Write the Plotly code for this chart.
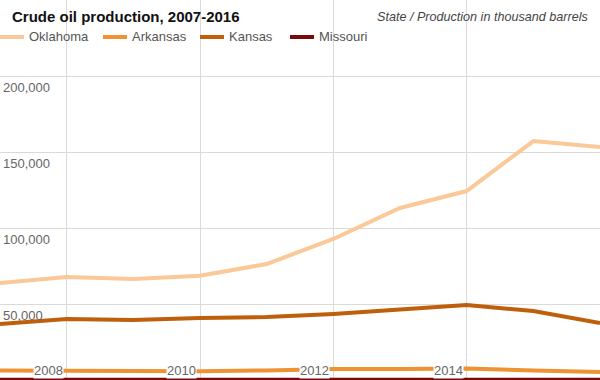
import plotly.graph_objects as go

years = [2007, 2008, 2009, 2010, 2011, 2012, 2013, 2014, 2015, 2016]
oklahoma = [63800, 67800, 66400, 68600, 76300, 92800, 113200, 124300, 157200, 153300]
arkansas = [6200, 6000, 5800, 5800, 6300, 7200, 7300, 7600, 6200, 5200]
kansas = [36800, 40100, 39500, 40800, 41400, 43400, 46300, 49300, 45400, 37500]
missouri = [120, 110, 100, 90, 150, 200, 220, 230, 180, 150]

names = ["Oklahoma", "Arkansas", "Kansas", "Missouri"]
colors = ["#fbc898", "#ee9232", "#be5f0c", "#7a0a0a"]
values = [oklahoma, arkansas, kansas, missouri]

y_tickvals = [0, 50000, 100000, 150000, 200000, 250000]
y_ticktext = ["", "50,000", "100,000", "150,000", "200,000", ""]
x_tickvals = [2008, 2010, 2012, 2014, 2016]
x_ticktext = ["2008", "2010", "2012", "2014", ""]

W, H = 600, 380
# legend entry starting pixels (styling)
legend_x = [0, 103, 200, 290]
legend_y = 37

fig = go.Figure()
for name, vals, color in zip(names, values, colors):
    fig.add_trace(go.Scatter(x=years, y=vals, name=name, mode="lines",
                             line=dict(color=color, width=4), showlegend=False,
                             hoverinfo="skip"))

font_family = "Liberation Sans, Arial, sans-serif"
shapes = []
annotations = [
    dict(text="<b>Crude oil production, 2007-2016</b>", xref="paper", yref="paper",
         x=10 / W, y=1 - 16 / H, xanchor="left", yanchor="middle",
         showarrow=False, font=dict(size=15, color="#111111", family=font_family)),
    dict(text="<i>State / Production in thousand barrels</i>", xref="paper", yref="paper",
         x=590 / W, y=1 - 17 / H, xanchor="right", yanchor="middle",
         showarrow=False, font=dict(size=12.6, color="#444444", family=font_family)),
]
for name, color, lx in zip(names, colors, legend_x):
    shapes.append(dict(type="line", xref="paper", yref="paper",
                       x0=lx / W, x1=(lx + 24) / W, y0=1 - legend_y / H, y1=1 - legend_y / H,
                       line=dict(color=color, width=4)))
    annotations.append(dict(text=name, xref="paper", yref="paper",
                            x=(lx + 27) / W, y=1 - legend_y / H, xanchor="left", yanchor="middle",
                            showarrow=False, font=dict(size=13, color="#555555", family=font_family)))
# x-axis tick labels on a white backing, sitting over the bottom line
for tv, tt in zip(x_tickvals, x_ticktext):
    if tt:
        annotations.append(dict(text=tt, xref="x", yref="paper", x=tv, y=0,
                                xanchor="right", yanchor="middle", xshift=-3, yshift=10,
                                showarrow=False, bgcolor="white", borderpad=0,
                                font=dict(size=13, color="#666666", family=font_family)))

fig.update_layout(
    width=W, height=H,
    margin=dict(l=0, r=0, t=0, b=0, autoexpand=False),
    paper_bgcolor="white", plot_bgcolor="white",
    font=dict(family=font_family, color="#666666", size=13),
    showlegend=False,
    xaxis=dict(range=[2007, 2016], tickvals=x_tickvals, showticklabels=False,
               showgrid=True, gridcolor="#dadada", gridwidth=1, zeroline=False,
               showline=False, ticks="", automargin=False),
    yaxis=dict(range=[0, 250000], tickvals=y_tickvals, ticktext=y_ticktext,
               showgrid=True, gridcolor="#dadada", gridwidth=1, zeroline=False,
               showline=False, ticks="", ticklabelposition="inside",
               automargin=False, ticklabelshift=11, layer="above traces",
               tickfont=dict(size=13, color="#666666")),
    shapes=shapes,
    annotations=annotations,
)

fig.write_html("out.html", config={"displayModeBar": False},
               post_script="document.body.style.margin='0';document.body.style.overflow='hidden';")
